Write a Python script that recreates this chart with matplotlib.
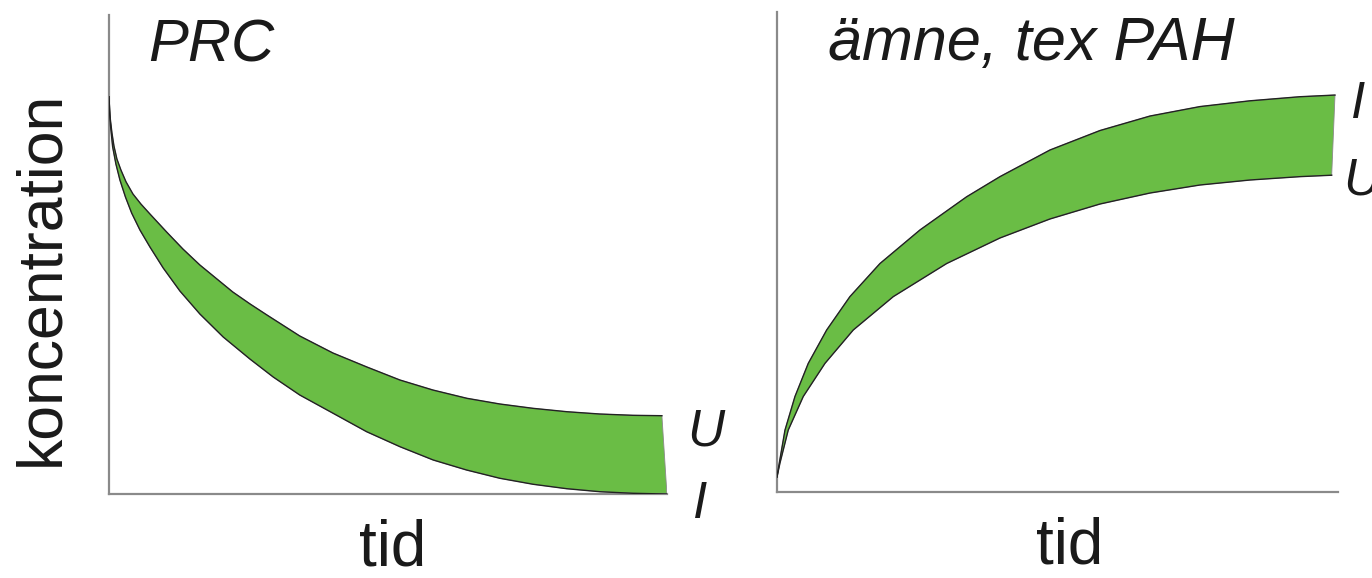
import matplotlib.pyplot as plt
import numpy as np

plt.rcParams['font.family'] = ['Liberation Sans', 'DejaVu Sans']

# PRC - avtar med tiden (U = övre kurvan, I = undre kurvan)
prc_t_u = [0, 0.0016, 0.0054, 0.009, 0.0143, 0.0215, 0.0305, 0.043, 0.0573, 0.0735, 0.1034,
           0.1326, 0.163, 0.222, 0.253, 0.2832, 0.342, 0.4014, 0.4624, 0.5215, 0.5806, 0.6416,
           0.7007, 0.7599, 0.8208, 0.8799, 0.939, 0.991]
prc_c_u = [0.8294, 0.7912, 0.7537, 0.7265, 0.6994, 0.6764, 0.6520, 0.6264, 0.6054, 0.5846, 0.547,
           0.5115, 0.4781, 0.4217, 0.3967, 0.3737, 0.3299, 0.2944, 0.2651, 0.238, 0.2171, 0.1998,
           0.1879, 0.1789, 0.1718, 0.167, 0.1643, 0.1635]
prc_t_i = [0, 0.0027, 0.0066, 0.0125, 0.0197, 0.0296, 0.0407, 0.0556, 0.0735, 0.0973, 0.1272,
           0.163, 0.2048, 0.2527, 0.2944, 0.342, 0.402, 0.4618, 0.5215, 0.5812, 0.641, 0.7007,
           0.7604, 0.8203, 0.8799, 0.9396, 1.0]
prc_c_i = [0.8294, 0.7704, 0.7251, 0.6889, 0.6555, 0.62, 0.5866, 0.5511, 0.5157, 0.4718, 0.4238,
           0.3758, 0.3278, 0.2818, 0.2443, 0.2067, 0.1684, 0.1301, 0.0988, 0.071, 0.0501, 0.0328,
           0.0203, 0.0111, 0.0048, 0.0015, 0.0]

# ämne, t.ex. PAH - ökar med tiden (I = övre kurvan, U = undre kurvan)
amne_t_i = [0, 0.0041, 0.0143, 0.0321, 0.0558, 0.0886, 0.130, 0.1836, 0.255, 0.338, 0.3975,
            0.4866, 0.5758, 0.665, 0.754, 0.843, 0.932, 0.9947]
amne_c_i = [0.031, 0.060, 0.129, 0.199, 0.268, 0.3375, 0.407, 0.476, 0.546, 0.615, 0.657,
            0.7125, 0.7531, 0.7833, 0.803, 0.815, 0.8235, 0.827]
amne_t_u = [0, 0.0053, 0.0201, 0.0469, 0.0856, 0.136, 0.2073, 0.3025, 0.3975, 0.4866,
            0.5758, 0.665, 0.754, 0.843, 0.932, 0.9888]
amne_c_u = [0.031, 0.060, 0.129, 0.199, 0.268, 0.3375, 0.407, 0.476, 0.5292, 0.5688,
            0.600, 0.6229, 0.6396, 0.650, 0.657, 0.660]

gron = "#6abd45"
gra = "#8a8a8a"


def band(ax, t1, c1, t2, c2):
    xs = list(t1) + list(t2)[::-1]
    ys = list(c1) + list(c2)[::-1]
    ax.fill(xs, ys, color=gron, lw=0.6, ec="#8a8a8a", zorder=2)
    ax.plot(t1, c1, color="#222222", lw=1.0, zorder=3, solid_joinstyle="round")
    ax.plot(t2, c2, color="#222222", lw=1.0, zorder=3, solid_joinstyle="round")


def stil(ax):
    ax.set_xlim(0, 1)
    ax.set_ylim(0, 1)
    for s in ["top", "right"]:
        ax.spines[s].set_visible(False)
    for s in ["left", "bottom"]:
        ax.spines[s].set_color(gra)
        ax.spines[s].set_linewidth(1.6)
    ax.set_xticks([])
    ax.set_yticks([])


fig = plt.figure(figsize=(13.72, 5.78), dpi=100)
ax1 = fig.add_axes([0.0794, 0.1453, 0.4067, 0.8287])
ax2 = fig.add_axes([0.5663, 0.1488, 0.4089, 0.8304])

stil(ax1)
stil(ax2)
band(ax1, prc_t_u, prc_c_u, prc_t_i, prc_c_i)
band(ax2, amne_t_i, amne_c_i, amne_t_u, amne_c_u)

kw = dict(style="italic", color="#1a1a1a", clip_on=False, va="baseline")
ax1.text(0.07, 0.902, "PRC", ha="left", fontsize=43, **kw)
ax2.text(0.091, 0.90, "ämne, tex PAH", ha="left", fontsize=44, **kw)
ax1.text(1.07, 0.102, "U", ha="center", fontsize=37, **kw)
ax1.text(1.06, -0.050, "I", ha="center", fontsize=37, **kw)
ax2.text(1.036, 0.779, "I", ha="center", fontsize=37, **kw)
ax2.text(1.043, 0.619, "U", ha="center", fontsize=37, **kw)

ax1.text(0.509, -0.113, "tid", ha="center", va="center", fontsize=46, color="#1a1a1a")
ax2.text(0.522, -0.113, "tid", ha="center", va="center", fontsize=46, color="#1a1a1a")
fig.text(42 / 1372, 1 - 278 / 578, "koncentration", rotation=90, ha="center", va="center",
         fontsize=45, color="#1a1a1a")

fig.savefig("out.png", dpi=100)
